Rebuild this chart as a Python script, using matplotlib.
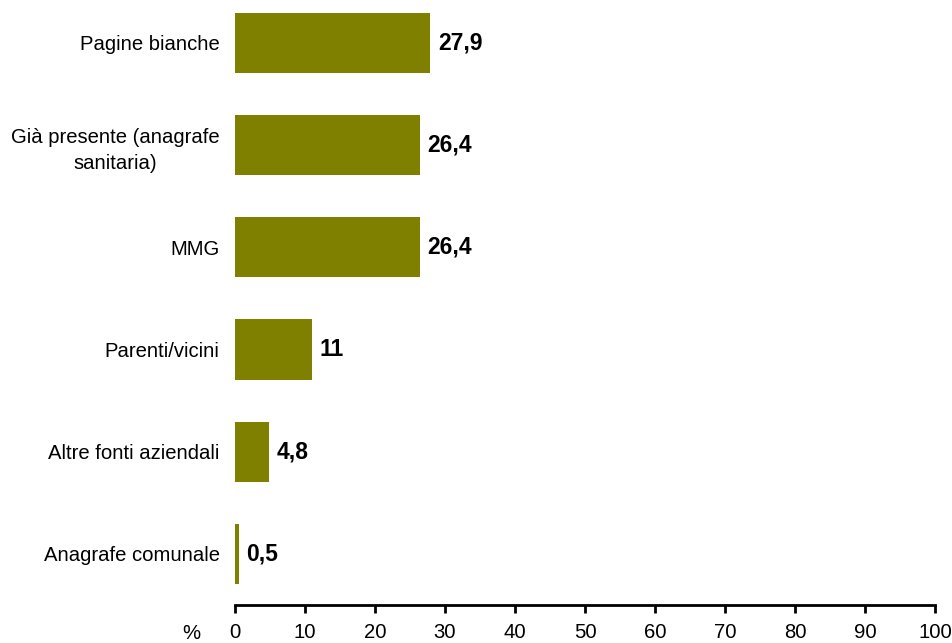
import matplotlib.pyplot as plt

plt.rcParams['font.family'] = ['Liberation Sans', 'DejaVu Sans']

# Data
categories = ['Pagine bianche', 'Già presente (anagrafe\nsanitaria)', 'MMG',
              'Parenti/vicini', 'Altre fonti aziendali', 'Anagrafe comunale']
values = [27.9, 26.4, 26.4, 11, 4.8, 0.5]
labels = ['27,9', '26,4', '26,4', '11', '4,8', '0,5']
xticks = list(range(0, 101, 10))

fig = plt.figure(figsize=(9.52, 6.43), dpi=100)
ax = fig.add_axes([235 / 952, 38 / 643, 700 / 952, 1 - 38 / 643])

ypos = list(range(len(categories)))
ax.barh(ypos, values, height=0.59, color='#808000')

for y, v, lab in zip(ypos, values, labels):
    ax.text(v + 1.1, y, lab, va='center', ha='left', fontsize=16.5, fontweight='bold')

ax.set_xlim(0, 100)
ax.set_ylim(5.5, -0.42)
ax.set_xticks(xticks)
ax.set_xticklabels([str(t) for t in xticks], fontsize=14.6)
ax.set_yticks(ypos)
ax.set_yticklabels(categories, fontsize=14.6, multialignment='center', linespacing=1.45)

ax.tick_params(axis='y', length=0, pad=11)
ax.tick_params(axis='x', direction='out', length=6, width=2, pad=7)

for side in ['top', 'right', 'left']:
    ax.spines[side].set_visible(False)
ax.spines['bottom'].set_linewidth(2)

# "%" label left of the tick labels
ax.text(-6.2, -0.032, '%', transform=ax.get_xaxis_transform(),
        ha='center', va='top', fontsize=14.6)

fig.savefig('out.png', dpi=100)
